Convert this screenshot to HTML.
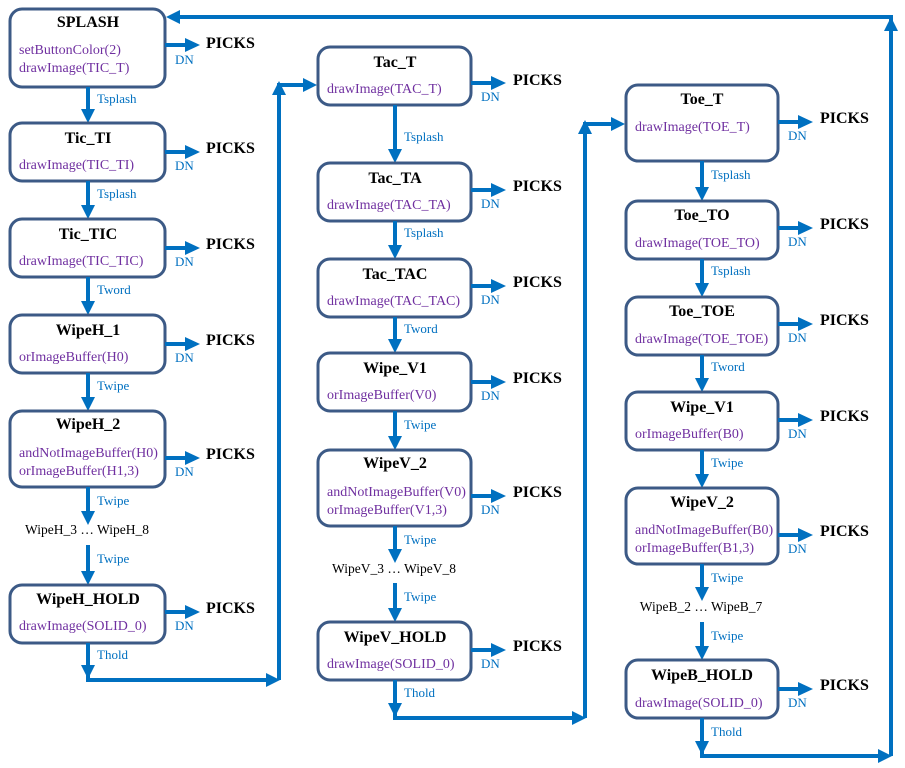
<!DOCTYPE html>
<html><head><meta charset="utf-8"><style>
body{margin:0;background:#fff}
svg{display:block}
.b{fill:#fff;stroke:#3C5A86;stroke-width:3}
.t{font:bold 16px "Liberation Serif",serif;fill:#000;text-anchor:middle}
.f{font:14px "Liberation Serif",serif;fill:#7030A0}
.l{font:13px "Liberation Serif",serif;fill:#0070C0}
.p{font:bold 16px "Liberation Serif",serif;fill:#000}
.g{font:13.5px "Liberation Serif",serif;fill:#000;text-anchor:middle}
.w{stroke:#0070C0;stroke-width:4;fill:none}
.h{fill:#0070C0}
</style></head><body>
<svg width="905" height="768" viewBox="0 0 905 768">
<defs>
<g id="pk"><line class="w" x1="0" y1="0" x2="24" y2="0"/><polygon class="h" points="20,-7 35,0 20,7"/></g>
</defs>

<!-- Column 1 -->
<rect class="b" x="10" y="9" width="155" height="78" rx="12"/>
<text class="t" x="88" y="27">SPLASH</text>
<text class="f" x="19" y="54">setButtonColor(2)</text>
<text class="f" x="19" y="72">drawImage(TIC_T)</text>
<use href="#pk" x="165" y="45"/><text class="p" x="206" y="48">PICKS</text><text class="l" x="175" y="64">DN</text>

<line class="w" x1="88" y1="87" x2="88" y2="110"/><polygon class="h" points="81,109 95,109 88,123"/>
<text class="l" x="97" y="103">Tsplash</text>

<rect class="b" x="10" y="123" width="155" height="58" rx="12"/>
<text class="t" x="88" y="143">Tic_TI</text>
<text class="f" x="19" y="169">drawImage(TIC_TI)</text>
<use href="#pk" x="165" y="152"/><text class="p" x="206" y="153">PICKS</text><text class="l" x="175" y="170">DN</text>

<line class="w" x1="88" y1="181" x2="88" y2="206"/><polygon class="h" points="81,205 95,205 88,219"/>
<text class="l" x="97" y="198">Tsplash</text>

<rect class="b" x="10" y="219" width="155" height="58" rx="12"/>
<text class="t" x="88" y="239">Tic_TIC</text>
<text class="f" x="19" y="265">drawImage(TIC_TIC)</text>
<use href="#pk" x="165" y="248"/><text class="p" x="206" y="249">PICKS</text><text class="l" x="175" y="266">DN</text>

<line class="w" x1="88" y1="277" x2="88" y2="302"/><polygon class="h" points="81,301 95,301 88,315"/>
<text class="l" x="97" y="294">Tword</text>

<rect class="b" x="10" y="315" width="155" height="58" rx="12"/>
<text class="t" x="88" y="335">WipeH_1</text>
<text class="f" x="19" y="361">orImageBuffer(H0)</text>
<use href="#pk" x="165" y="344"/><text class="p" x="206" y="345">PICKS</text><text class="l" x="175" y="362">DN</text>

<line class="w" x1="88" y1="373" x2="88" y2="398"/><polygon class="h" points="81,397 95,397 88,411"/>
<text class="l" x="97" y="390">Twipe</text>

<rect class="b" x="10" y="411" width="155" height="76" rx="12"/>
<text class="t" x="88" y="429">WipeH_2</text>
<text class="f" x="19" y="457">andNotImageBuffer(H0)</text>
<text class="f" x="19" y="475">orImageBuffer(H1,3)</text>
<use href="#pk" x="165" y="458"/><text class="p" x="206" y="459">PICKS</text><text class="l" x="175" y="476">DN</text>

<line class="w" x1="88" y1="487" x2="88" y2="512"/><polygon class="h" points="81,511 95,511 88,525"/>
<text class="l" x="97" y="505">Twipe</text>
<text class="g" x="87" y="534">WipeH_3 … WipeH_8</text>
<line class="w" x1="88" y1="545" x2="88" y2="572"/><polygon class="h" points="81,571 95,571 88,585"/>
<text class="l" x="97" y="563">Twipe</text>

<rect class="b" x="10" y="585" width="155" height="58" rx="12"/>
<text class="t" x="88" y="604">WipeH_HOLD</text>
<text class="f" x="19" y="630">drawImage(SOLID_0)</text>
<use href="#pk" x="165" y="612"/><text class="p" x="206" y="613">PICKS</text><text class="l" x="175" y="630">DN</text>
<text class="l" x="97" y="659">Thold</text>

<polyline class="w" points="88,643 88,680 268,680"/>
<polygon class="h" points="81,665 95,665 88,679"/>
<polygon class="h" points="266,673 280,680 266,687"/>
<polyline class="w" points="279,680 279,85 305,85"/>
<polygon class="h" points="272,95 279,81 286,95"/>
<polygon class="h" points="303,78 317,85 303,92"/>

<!-- Column 2 -->
<rect class="b" x="318" y="47" width="153" height="58" rx="12"/>
<text class="t" x="395" y="67">Tac_T</text>
<text class="f" x="327" y="93">drawImage(TAC_T)</text>
<use href="#pk" x="471" y="83"/><text class="p" x="513" y="85">PICKS</text><text class="l" x="481" y="101">DN</text>

<line class="w" x1="395" y1="105" x2="395" y2="150"/><polygon class="h" points="388,149 402,149 395,163"/>
<text class="l" x="404" y="141">Tsplash</text>

<rect class="b" x="318" y="163" width="153" height="58" rx="12"/>
<text class="t" x="395" y="183">Tac_TA</text>
<text class="f" x="327" y="209">drawImage(TAC_TA)</text>
<use href="#pk" x="471" y="190"/><text class="p" x="513" y="191">PICKS</text><text class="l" x="481" y="208">DN</text>

<line class="w" x1="395" y1="221" x2="395" y2="246"/><polygon class="h" points="388,245 402,245 395,259"/>
<text class="l" x="404" y="237">Tsplash</text>

<rect class="b" x="318" y="259" width="153" height="58" rx="12"/>
<text class="t" x="395" y="279">Tac_TAC</text>
<text class="f" x="327" y="305">drawImage(TAC_TAC)</text>
<use href="#pk" x="471" y="286"/><text class="p" x="513" y="287">PICKS</text><text class="l" x="481" y="304">DN</text>

<line class="w" x1="395" y1="317" x2="395" y2="340"/><polygon class="h" points="388,339 402,339 395,353"/>
<text class="l" x="404" y="333">Tword</text>

<rect class="b" x="318" y="353" width="153" height="58" rx="12"/>
<text class="t" x="395" y="373">Wipe_V1</text>
<text class="f" x="327" y="399">orImageBuffer(V0)</text>
<use href="#pk" x="471" y="382"/><text class="p" x="513" y="383">PICKS</text><text class="l" x="481" y="400">DN</text>

<line class="w" x1="395" y1="411" x2="395" y2="437"/><polygon class="h" points="388,436 402,436 395,450"/>
<text class="l" x="404" y="429">Twipe</text>

<rect class="b" x="318" y="450" width="153" height="76" rx="12"/>
<text class="t" x="395" y="468">WipeV_2</text>
<text class="f" x="327" y="496">andNotImageBuffer(V0)</text>
<text class="f" x="327" y="514">orImageBuffer(V1,3)</text>
<use href="#pk" x="471" y="496"/><text class="p" x="513" y="497">PICKS</text><text class="l" x="481" y="514">DN</text>

<line class="w" x1="395" y1="526" x2="395" y2="550"/><polygon class="h" points="388,549 402,549 395,563"/>
<text class="l" x="404" y="544">Twipe</text>
<text class="g" x="394" y="573">WipeV_3 … WipeV_8</text>
<line class="w" x1="395" y1="583" x2="395" y2="609"/><polygon class="h" points="388,608 402,608 395,622"/>
<text class="l" x="404" y="601">Twipe</text>

<rect class="b" x="318" y="622" width="153" height="58" rx="12"/>
<text class="t" x="395" y="642">WipeV_HOLD</text>
<text class="f" x="327" y="668">drawImage(SOLID_0)</text>
<use href="#pk" x="471" y="650"/><text class="p" x="513" y="651">PICKS</text><text class="l" x="481" y="668">DN</text>
<text class="l" x="404" y="697">Thold</text>

<polyline class="w" points="395,680 395,718 574,718"/>
<polygon class="h" points="388,703 402,703 395,717"/>
<polygon class="h" points="572,711 586,718 572,725"/>
<polyline class="w" points="585,718 585,124 613,124"/>
<polygon class="h" points="578,134 585,120 592,134"/>
<polygon class="h" points="611,117 625,124 611,131"/>

<!-- Column 3 -->
<rect class="b" x="626" y="85" width="152" height="76" rx="12"/>
<text class="t" x="702" y="104">Toe_T</text>
<text class="f" x="635" y="131">drawImage(TOE_T)</text>
<use href="#pk" x="778" y="122"/><text class="p" x="820" y="123">PICKS</text><text class="l" x="788" y="140">DN</text>

<line class="w" x1="702" y1="161" x2="702" y2="188"/><polygon class="h" points="695,187 709,187 702,201"/>
<text class="l" x="711" y="179">Tsplash</text>

<rect class="b" x="626" y="201" width="152" height="58" rx="12"/>
<text class="t" x="702" y="220">Toe_TO</text>
<text class="f" x="635" y="247">drawImage(TOE_TO)</text>
<use href="#pk" x="778" y="228"/><text class="p" x="820" y="229">PICKS</text><text class="l" x="788" y="246">DN</text>

<line class="w" x1="702" y1="259" x2="702" y2="284"/><polygon class="h" points="695,283 709,283 702,297"/>
<text class="l" x="711" y="275">Tsplash</text>

<rect class="b" x="626" y="297" width="152" height="58" rx="12"/>
<text class="t" x="702" y="316">Toe_TOE</text>
<text class="f" x="635" y="343">drawImage(TOE_TOE)</text>
<use href="#pk" x="778" y="324"/><text class="p" x="820" y="325">PICKS</text><text class="l" x="788" y="342">DN</text>

<line class="w" x1="702" y1="355" x2="702" y2="379"/><polygon class="h" points="695,378 709,378 702,392"/>
<text class="l" x="711" y="371">Tword</text>

<rect class="b" x="626" y="392" width="152" height="58" rx="12"/>
<text class="t" x="702" y="412">Wipe_V1</text>
<text class="f" x="635" y="438">orImageBuffer(B0)</text>
<use href="#pk" x="778" y="420"/><text class="p" x="820" y="421">PICKS</text><text class="l" x="788" y="438">DN</text>

<line class="w" x1="702" y1="450" x2="702" y2="475"/><polygon class="h" points="695,474 709,474 702,488"/>
<text class="l" x="711" y="467">Twipe</text>

<rect class="b" x="626" y="488" width="152" height="76" rx="12"/>
<text class="t" x="702" y="507">WipeV_2</text>
<text class="f" x="635" y="534">andNotImageBuffer(B0)</text>
<text class="f" x="635" y="552">orImageBuffer(B1,3)</text>
<use href="#pk" x="778" y="535"/><text class="p" x="820" y="536">PICKS</text><text class="l" x="788" y="553">DN</text>

<line class="w" x1="702" y1="564" x2="702" y2="588"/><polygon class="h" points="695,587 709,587 702,601"/>
<text class="l" x="711" y="582">Twipe</text>
<text class="g" x="701" y="611">WipeB_2 … WipeB_7</text>
<line class="w" x1="702" y1="622" x2="702" y2="647"/><polygon class="h" points="695,646 709,646 702,660"/>
<text class="l" x="711" y="640">Twipe</text>

<rect class="b" x="626" y="660" width="152" height="58" rx="12"/>
<text class="t" x="702" y="680">WipeB_HOLD</text>
<text class="f" x="635" y="707">drawImage(SOLID_0)</text>
<use href="#pk" x="778" y="689"/><text class="p" x="820" y="690">PICKS</text><text class="l" x="788" y="707">DN</text>
<text class="l" x="711" y="736">Thold</text>

<polyline class="w" points="702,718 702,756 880,756"/>
<polygon class="h" points="695,741 709,741 702,755"/>
<polygon class="h" points="878,749 892,756 878,763"/>
<polyline class="w" points="891,756 891,17 178,17"/>
<polygon class="h" points="884,31 891,17 898,31"/>
<polygon class="h" points="180,10 166,17 180,24"/>
</svg>
</body></html>
